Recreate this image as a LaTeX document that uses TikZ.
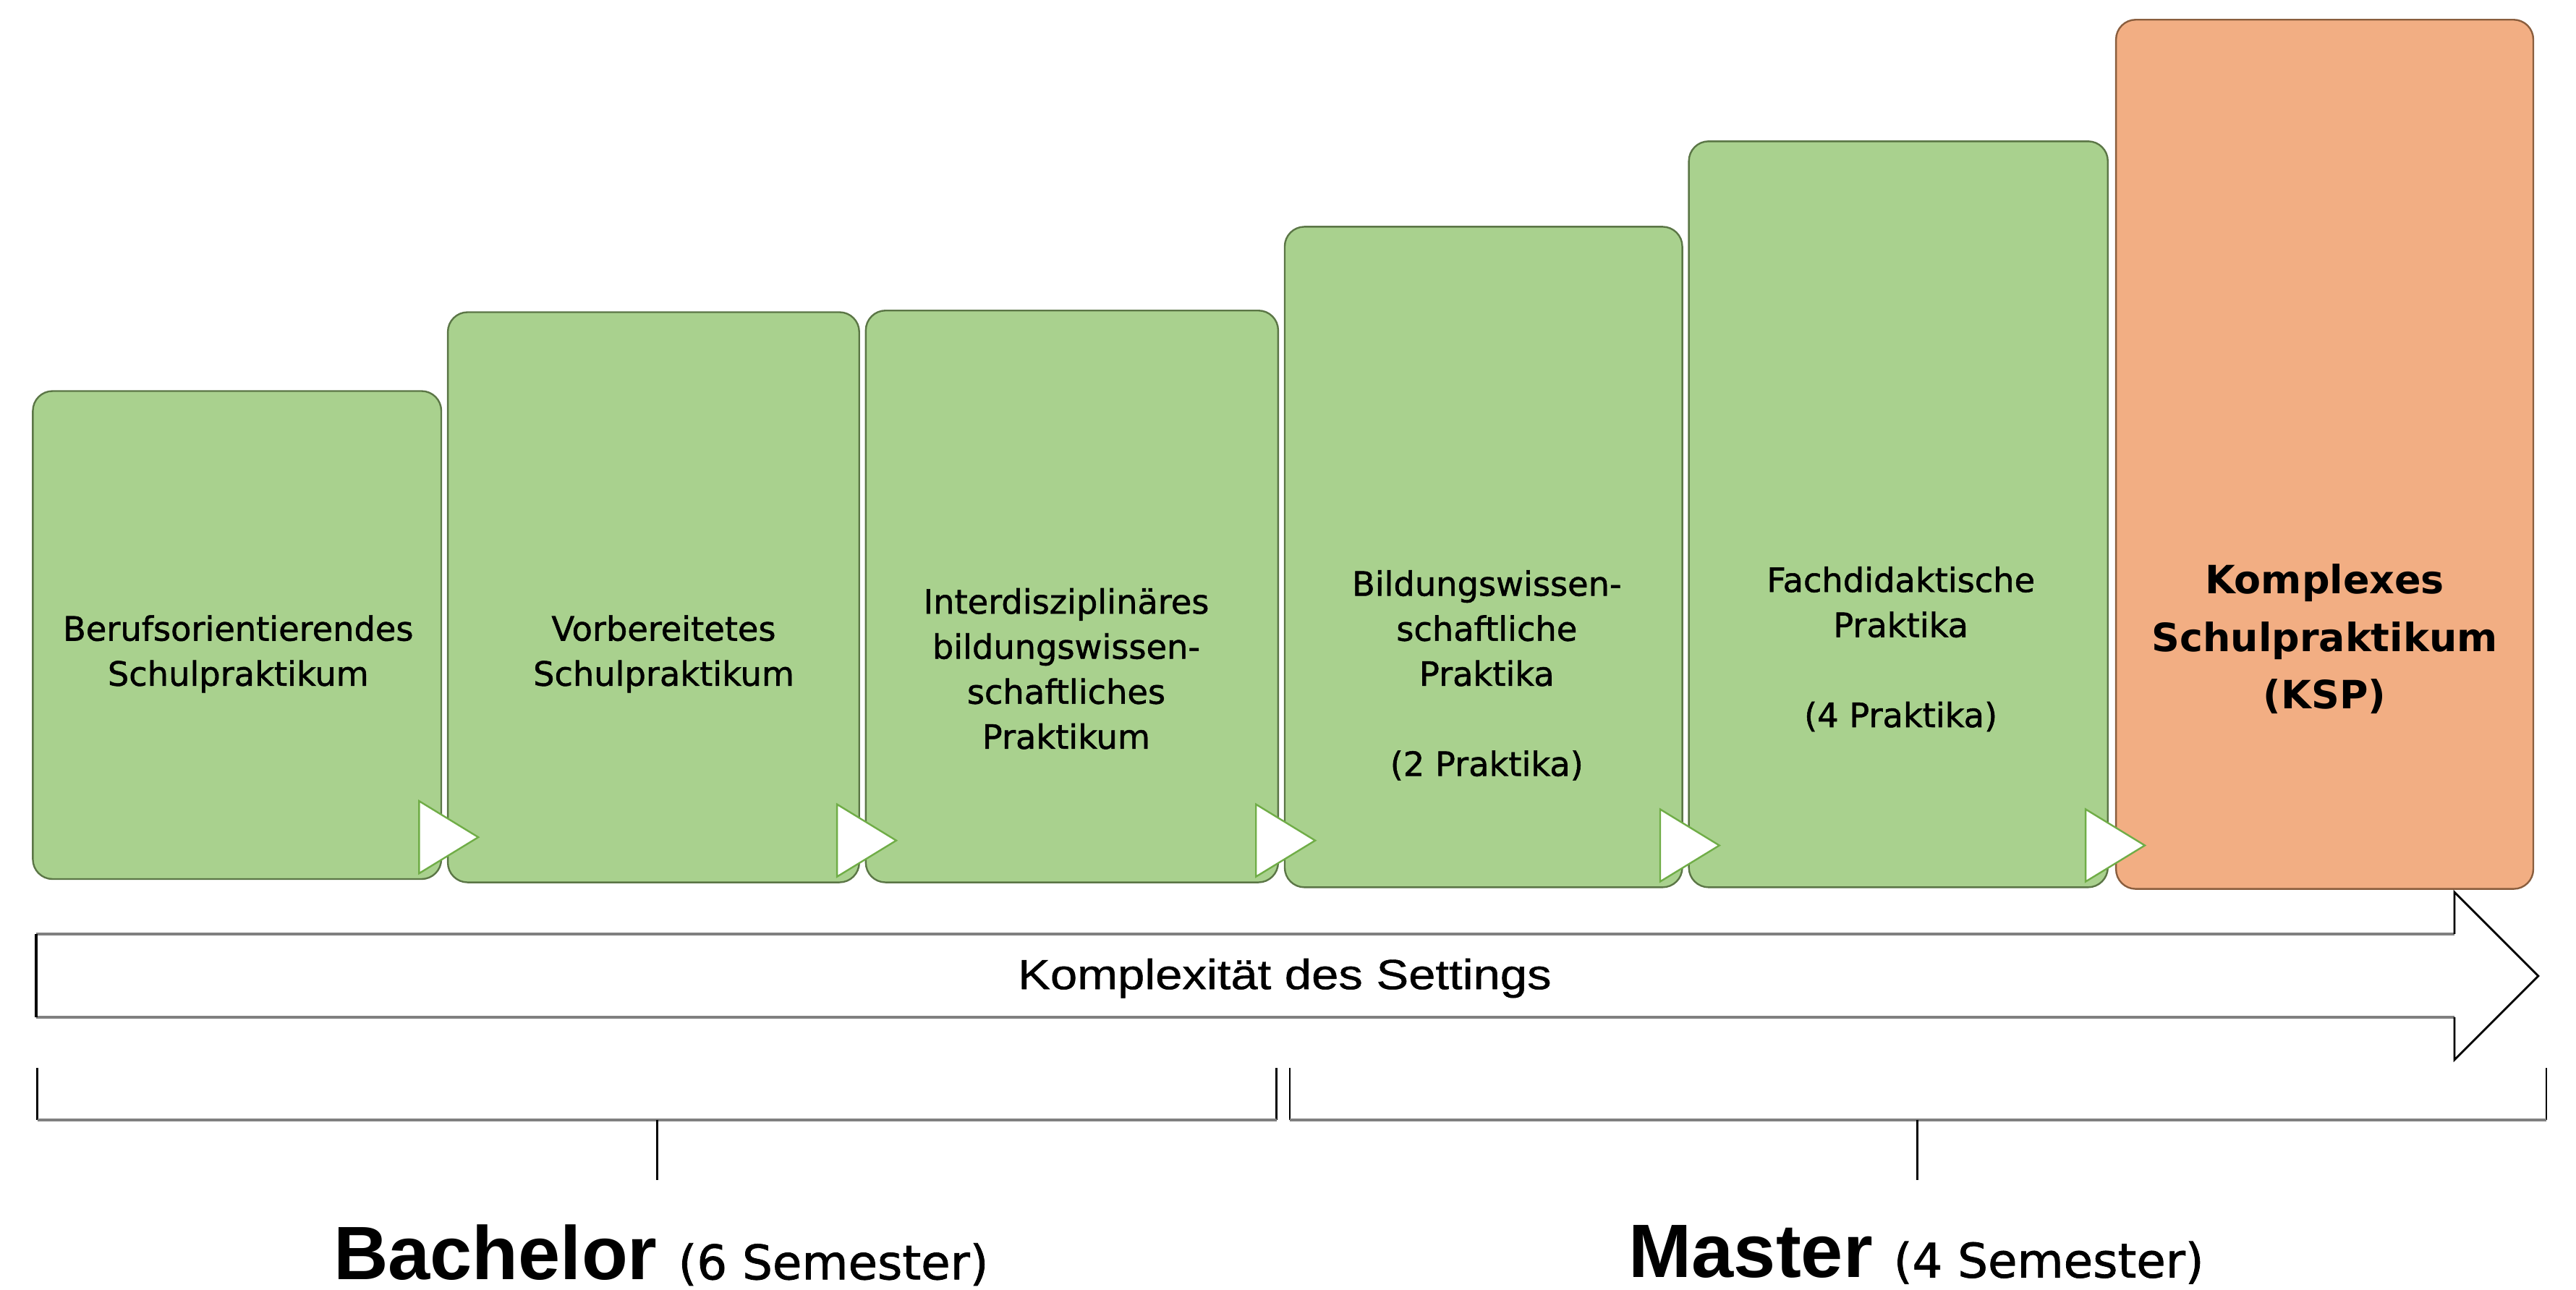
\documentclass[tikz,border=0pt]{standalone}
\usepackage{fontspec}
\setmainfont{DejaVu Sans}
\newfontfamily\stagefont[FakeBold=1.2]{DejaVu Sans}
\newfontfamily\semfont[FakeBold=1.2]{DejaVu Sans}
\newfontfamily\settingfont[FakeStretch=1.15, FakeBold=0.8]{Liberation Sans}
\newfontfamily\degreefont{Liberation Sans}
\usetikzlibrary{fit}

\definecolor{stagegreen}{HTML}{A9D18E}
\definecolor{stageline}{HTML}{5B7646}
\definecolor{kspfill}{HTML}{F2AE83}
\definecolor{kspline}{HTML}{8A5E3E}
\definecolor{trigreen}{HTML}{70AD47}
\definecolor{railgray}{HTML}{808080}

\tikzset{
	stage/.style={draw=stageline, fill=stagegreen, rounded corners=2.4mm, inner sep=0pt, line width=0.6pt},
	stagetext/.style={align=center, font=\stagefont\fontsize{11.6}{15.6}\selectfont},
	ksptext/.style={align=center, font=\bfseries\fontsize{13.5}{19.9}\selectfont},
	nexttri/.style={draw=trigreen, fill=white, line width=0.6pt},
	rail/.style={draw=railgray, line width=1.1pt},
	tick/.style={draw=black, line width=0.6pt},
}

\begin{document}
\begin{tikzpicture}[x=0.2mm, y=-0.2mm]
	\useasboundingbox (0,0) rectangle (1568,785);

	% Praktika
	\node[stage, fit={(20,238) (268.6,535)}] (b1) {};
	\node[stage, fit={(272.6,190) (523,537)}] (b2) {};
	\node[stage, fit={(527,189) (778,537)}] (b3) {};
	\node[stage, fit={(782,138) (1024,540)}] (b4) {};
	\node[stage, fit={(1028,86) (1283,540)}] (b5) {};
	\node[stage, fill=kspfill, draw=kspline, fit={(1288,12) (1542,541)}] (b6) {};

	\foreach \b in {b1,b2,b3,b4,b5}
		\draw[nexttri] (\b.south east) ++(-14,-4) -- ++(0,-44) -- ++(36,22) -- cycle;

	\node[stagetext] (t1) at (145,398) {Berufsorientierendes\\Schulpraktikum};
	\node[stagetext] (t2) at (404,398) {Vorbereitetes\\Schulpraktikum};
	\node[stagetext] (t3) at (649,407) {Interdisziplinäres\\bildungswissen-\\schaftliches\\Praktikum};
	\node[stagetext] (t4) at (905,411) {Bildungswissen-\\schaftliche\\Praktika\\[15.6pt](2 Praktika)};
	\node[stagetext] (t5) at (1157,395) {Fachdidaktische\\Praktika\\[15.6pt](4 Praktika)};
	\node[ksptext] (t6) at (1415,389) {Komplexes\\Schulpraktikum\\(KSP)};

	% Pfeil
	\fill[white] (22,568.4) -- (1494,568.4) -- (1494,543) -- (1545,594) -- (1494,645) -- (1494,619) -- (22,619) -- cycle;
	\draw[rail] (22,568.4) -- (1494,568.4);
	\draw[rail] (22,619) -- (1494,619);
	\draw[black, line width=0.8pt] (22,568.4) -- (22,619);
	\draw[black, line width=0.7pt] (1494,568.4) -- (1494,543) -- (1545,594) -- (1494,645) -- (1494,619);
	\node[anchor=base, font=\settingfont\fontsize{14.6}{16}\selectfont] (setting) at (782,602) {Komplexität des Settings};

	% Klammern
	\draw[tick] (22.7,650) -- (22.7,681.6);
	\draw[tick] (777,650) -- (777,681.6);
	\draw[rail] (22.7,681.6) -- (777,681.6);
	\draw[tick] (400,681.6) -- (400,718);
	\draw[tick] (785,650) -- (785,681.6);
	\draw[tick] (1550,650) -- (1550,681.6);
	\draw[rail] (785,681.6) -- (1550,681.6);
	\draw[tick] (1167,681.6) -- (1167,718);

	\node[anchor=base] (bachelor) at (402.4,778.6) {\degreefont\bfseries\fontsize{26.2}{30}\selectfont Bachelor \semfont\mdseries\fontsize{16.5}{18}\selectfont(6 Semester)};
	\node[anchor=base] (master) at (1166.5,777.5) {\degreefont\bfseries\fontsize{26.2}{30}\selectfont Master \semfont\mdseries\fontsize{16.5}{18}\selectfont(4 Semester)};
\end{tikzpicture}
\end{document}
